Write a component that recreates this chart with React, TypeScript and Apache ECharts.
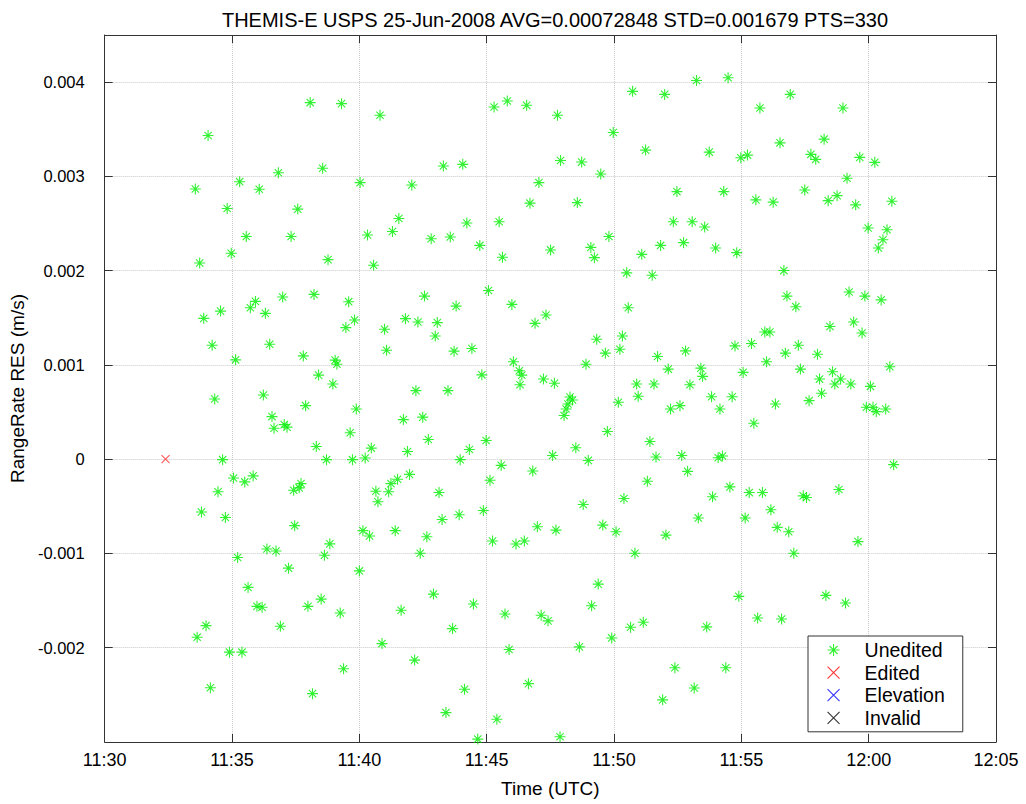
import React, { useEffect, useRef } from "react";
import * as echarts from "echarts";

const TITLE = "THEMIS-E USPS 25-Jun-2008 AVG=0.00072848 STD=0.001679 PTS=330";
const X_NAME = "Time (UTC)";
const Y_NAME = "RangeRate RES (m/s)";
const LEGEND_NAMES = ["Unedited", "Edited", "Elevation", "Invalid"];

// Time: minutes after 11:00 UTC
const uneditedMinutes = [
  38.07, 34.06, 36.82, 38.56, 35.3, 33.56, 36.07, 34.81, 37.58, 35.56,
  37.32, 34.97, 33.73, 38.77, 39.3, 40.81, 45.29, 45.81, 46.57, 47.78,
  43.3, 44.06, 47.9, 40.03, 42.06, 47.05, 46.7, 41.55, 40.32, 41.3,
  42.82, 43.57, 44.22, 45.49, 44.73, 45.62, 47.51, 40.56, 53.24, 54.48,
  50.73, 51.99, 56.92, 55.73, 49.97, 51.24, 53.74, 54.98, 55.24, 56.52,
  48.73, 49.48, 48.56, 52.47, 54.31, 55.57, 56.25, 52.33, 53.07, 53.56,
  49.8, 49.09, 49.23, 51.09, 51.83, 52.73, 53.99, 54.82, 50.5, 51.5,
  56.67, 58.99, 58.25, 57.73, 57.92, 59.65, 60.24, 59.15, 57.49, 58.41,
  58.76, 59.49, 60.91, 59.98, 60.72, 60.56, 60.38,
  33.89, 34.55, 35.72, 35.92, 36.31, 36.99, 38.22, 34.22, 36.48, 37.8,
  35.14, 38.4, 34.32, 36.23, 37.89, 36.57, 36.65, 37.05, 37.16, 38.31,
  34.63, 38.71, 35.06, 35.5, 35.83, 34.45, 37.42, 37.71, 37.64, 33.8,
  34.74,
  39.58, 42.56, 45.07, 43.8, 45.99, 47.33, 46.9, 39.81, 39.47, 40.99,
  41.81, 42.3, 43.06, 42.98, 41.07, 43.72, 44.42, 39.05, 39.12, 38.96,
  46.05, 46.28, 46.38, 46.31, 44.81, 47.23, 47.66, 42.22, 43.48, 39.88,
  41.73, 42.49, 39.64, 42.71, 40.47, 39.73, 40.23, 41.89, 44.32, 44.98,
  43.96, 47.59, 45.57, 46.81, 41.97, 41.5, 41.24, 41.15, 40.65, 40.73,
  45.13, 43.13, 44.87, 43.92, 43.25,
  50.56, 56.79, 49.32, 50.33, 49.66, 50.23, 48.9, 51.71, 52.81, 54.75,
  55.4, 55.92, 56.12, 56.73, 55.99, 52.13, 53.41, 53.48, 55.07, 50.89,
  51.57, 52.98, 50.95, 50.17, 48.27, 48.37, 48.19, 48.12, 48.04, 53.83,
  54.64, 52.22, 52.59, 54.16, 56.34, 55.49, 49.74, 51.41, 48.5, 48.99,
  51.65, 52.66, 54.09, 54.26, 52.89, 51.31, 54.55, 53.87, 50.39, 48.79,
  55.31, 55.83, 56.16, 53.31, 55.15,
  57.14, 59.23, 59.85, 60.49, 58.48, 59.41, 59.74, 57.24,
  57.99, 57.32, 58.58, 58.07, 58.9, 58.67, 59.3, 60.07, 60.83, 58.15,
  57.66, 59.91, 60.17, 60.3, 60.67, 60.98, 58.83, 57.43, 57.56,
  37.46, 36.37, 36.73, 35.22, 37.22, 38.63, 38.84, 35.63, 35.98, 36.18,
  37.98, 38.5, 36.9, 33.98, 33.63, 34.9, 35.39, 34.15, 38.16,
  40.14, 40.4, 41.41, 42.65, 42.39, 45.23, 46.15, 46.48, 46.99, 47.72,
  40.0, 39.25, 41.64, 42.91, 44.48, 43.66, 45.72, 47.14, 47.41, 40.89,
  45.88, 42.17, 39.38, 44.13, 46.64, 43.4, 45.4, 44.65, 47.88,
  49.56, 50.08, 52.04, 56.41, 56.86, 50.82, 49.38, 49.12, 48.64, 49.91,
  50.65, 51.15, 53.64, 54.9, 55.64, 56.58, 52.39, 53.15, 51.91, 54.39,
  57.06, 59.58, 58.32, 59.09,
];

// Residuals in mm/s (converted to m/s for plotting)
const uneditedResMmS = [
  3.783, 3.434, 3.039, 3.086, 2.944, 2.867, 2.864, 2.659, 2.653, 2.363,
  2.363, 2.184, 2.082, 2.117, 3.772, 3.648, 3.736, 3.8, 3.754, 3.648,
  3.11, 3.128, 3.168, 2.934, 2.909, 2.934, 2.716, 2.553, 2.378, 2.416,
  2.339, 2.357, 2.505, 2.519, 2.268, 2.142, 2.22, 2.057, 4.018, 4.047,
  3.902, 3.87, 3.87, 3.726, 3.466, 3.279, 3.258, 3.198, 3.226, 3.356,
  3.152, 3.025, 2.722, 2.839, 2.839, 2.751, 2.727, 2.519, 2.519, 2.463,
  2.363, 2.247, 2.138, 2.173, 2.268, 2.297, 2.241, 2.191, 1.977, 1.951,
  2.001, 3.726, 3.395, 3.234, 3.181, 3.202, 3.149, 2.98, 2.856, 2.743,
  2.796, 2.698, 2.737, 2.452, 2.434, 2.328, 2.241,
  1.494, 1.571, 1.607, 1.674, 1.547, 1.721, 1.748, 1.209, 1.22, 1.096,
  1.054, 0.892, 0.639, 0.681, 0.568, 0.452, 0.329, 0.367, 0.34, 0.135,
  -0.005, -0.005, -0.199, -0.241, -0.177, -0.346, -0.329, -0.259, -0.304, -0.56,
  -0.618,
  1.671, 1.73, 1.79, 1.624, 1.642, 1.529, 1.441, 1.476, 1.396, 1.378,
  1.491, 1.455, 1.449, 1.307, 1.156, 1.146, 1.174, 1.051, 1.008, 0.797,
  1.033, 0.938, 0.892, 0.79, 0.895, 0.85, 0.805, 0.727, 0.727, 0.533,
  0.42, 0.446, 0.28, 0.209, 0.118, -0.005, 0.013, 0.082, 0.103, 0.199,
  -0.005, 0.04, -0.065, -0.125, -0.161, -0.213, -0.259, -0.346, -0.34, -0.452,
  -0.224, -0.354, -0.544, -0.589, -0.639,
  1.607, 1.73, 1.272, 1.307, 1.125, 1.167, 1.008, 1.09, 1.149, 1.202,
  1.227, 1.35, 1.35, 1.125, 1.033, 0.956, 0.966, 0.879, 0.921, 0.797,
  0.797, 0.79, 0.667, 0.604, 0.66, 0.628, 0.586, 0.533, 0.463, 0.663,
  0.663, 0.533, 0.568, 0.533, 0.586, 0.382, 0.294, 0.188, 0.121, -0.013,
  0.023, 0.04, 0.016, 0.034, -0.129, -0.234, -0.294, -0.399, -0.417, -0.48,
  -0.354, -0.354, -0.536, -0.623, -0.623,
  1.618, 1.774, 1.73, 1.69, 1.407, 1.455, 1.339, 1.209,
  1.114, 0.956, 0.927, 0.85, 0.85, 0.797, 0.797, 0.773, 0.98, 0.699,
  0.621, 0.551, 0.551, 0.505, 0.533, -0.058, -0.322, -0.389, -0.407,
  -0.705, -0.953, -0.974, -1.043, -1.156, -1.019, -0.898, -1.36, -1.561, -1.571,
  -1.561, -1.484, -1.772, -1.766, -1.888, -2.047, -2.047, -2.424, -2.487,
  -0.758, -0.815, -0.758, -0.822, -0.998, -0.868, -0.9, -0.868, -0.716, -0.752,
  -1.185, -1.632, -1.603, -1.431, -1.536, -1.797, -1.642, -1.656, -1.715, -1.956,
  -2.019, -2.131, -2.223, -2.441, -2.381, -2.688, -2.758, -2.969, -2.944,
  -0.699, -0.769, -0.805, -0.723, -0.769, -0.998, -1.325, -1.554, -1.991, -1.896,
  -1.783, -1.73, -1.779, -1.455, -1.684, -1.695, -2.212, -2.427, -2.553, -2.212,
  -0.998, -0.874, -1.445, -1.526,
];

const editedMinutes = [32.39];
const editedResMmS = [0.0];
const elevationMinutes: number[] = [];
const elevationResMmS: number[] = [];
const invalidMinutes: number[] = [];
const invalidResMmS: number[] = [];

const STAR = "path://M0,6L12,6M6,0L6,12M2,2L10,10M10,2L2,10";
const CROSS = "path://M0,0L10,10M10,0L0,10";
const FONT = "Liberation Sans, Arial, Helvetica, sans-serif";

const toPairs = (xs: number[], ys: number[]) => xs.map((x, i) => [x, ys[i] / 1000]);

const fmtTime = (v: number) => {
  const h = 11 + Math.floor(v / 60);
  const m = Math.round(v % 60);
  return `${h}:${String(m).padStart(2, "0")}`;
};
const fmtRes = (v: number) => (Math.abs(v) < 1e-9 ? "0" : String(parseFloat(v.toFixed(4))));

export default function App() {
  const ref = useRef<HTMLDivElement>(null);
  useEffect(() => {
    if (!ref.current) return;
    const chart = echarts.init(ref.current, null, { renderer: "svg" });
    const axisColor = "#333";
    const grid = { type: "dotted" as const, color: "#c8c8c8", width: 1 };
    const line = { show: true, onZero: false, lineStyle: { color: axisColor, width: 1 } };
    const tick = { show: true, inside: true, length: 8, lineStyle: { color: axisColor } };
    const mk = (name: string, symbol: string, size: number, color: string, data: number[][]) => ({
      name,
      type: "scatter",
      symbol,
      symbolSize: size,
      data,
      itemStyle: { color: "rgba(0,0,0,0)", borderColor: color, borderWidth: 1.1 },
      emphasis: { disabled: true },
    });
    const legendItem = (name: string, icon: string, color: string) => ({
      name,
      icon,
      itemStyle: { color: "rgba(0,0,0,0)", borderColor: color, borderWidth: 1.1 },
    });
    chart.setOption({
      animation: false,
      backgroundColor: "#fff",
      textStyle: { fontFamily: FONT },
      title: {
        text: TITLE,
        left: 550,
        top: 5,
        textAlign: "center",
        textStyle: { fontFamily: FONT, fontSize: 20, fontWeight: "normal", color: "#000" },
      },
      grid: { left: 104, right: 30, top: 35, bottom: 62 },
      legend: {
        orient: "vertical",
        left: 808,
        top: 636,
        padding: [4, 18, 4, 19],
        itemWidth: 44,
        itemHeight: 12,
        itemGap: 2.6,
        backgroundColor: "#fff",
        borderColor: "#333",
        borderWidth: 1,
        borderRadius: 0,
        selectedMode: false,
        textStyle: { fontFamily: FONT, fontSize: 19.5, color: "#000", padding: [0, 0, 0, 4] },
        data: [
          legendItem(LEGEND_NAMES[0], STAR, "#00ee00"),
          legendItem(LEGEND_NAMES[1], CROSS, "#ff0000"),
          legendItem(LEGEND_NAMES[2], CROSS, "#0000ff"),
          legendItem(LEGEND_NAMES[3], CROSS, "#000000"),
        ],
      },
      xAxis: [
        {
          type: "value",
          min: 30,
          max: 65,
          interval: 5,
          position: "bottom",
          name: X_NAME,
          nameLocation: "middle",
          nameGap: 37,
          nameTextStyle: { fontFamily: FONT, fontSize: 19, color: "#000" },
          axisLine: line,
          axisTick: tick,
          axisLabel: { formatter: fmtTime, fontFamily: FONT, fontSize: 18, color: "#000", margin: 9 },
          splitLine: { show: true, lineStyle: grid },
        },
        {
          type: "value",
          min: 30,
          max: 65,
          interval: 5,
          position: "top",
          axisLine: line,
          axisTick: tick,
          axisLabel: { show: false },
          splitLine: { show: false },
        },
      ],
      yAxis: [
        {
          type: "value",
          min: -0.003,
          max: 0.0045,
          interval: 0.001,
          position: "left",
          name: Y_NAME,
          nameLocation: "middle",
          nameGap: 71,
          nameRotate: 90,
          nameTextStyle: { fontFamily: FONT, fontSize: 19, color: "#000" },
          axisLine: line,
          axisTick: tick,
          axisLabel: {
            formatter: fmtRes,
            fontFamily: FONT,
            fontSize: 16.5,
            color: "#000",
            margin: 20,
            showMinLabel: false,
            showMaxLabel: false,
          },
          splitLine: { show: true, lineStyle: grid },
        },
        {
          type: "value",
          min: -0.003,
          max: 0.0045,
          interval: 0.001,
          position: "right",
          axisLine: line,
          axisTick: tick,
          axisLabel: { show: false },
          splitLine: { show: false },
        },
      ],
      series: [
        mk(LEGEND_NAMES[0], STAR, 11, "#00ee00", toPairs(uneditedMinutes, uneditedResMmS)),
        mk(LEGEND_NAMES[1], CROSS, 8, "#ff3030", toPairs(editedMinutes, editedResMmS)),
        mk(LEGEND_NAMES[2], CROSS, 8, "#0000ff", toPairs(elevationMinutes, elevationResMmS)),
        mk(LEGEND_NAMES[3], CROSS, 8, "#000000", toPairs(invalidMinutes, invalidResMmS)),
      ],
    });
    return () => chart.dispose();
  }, []);
  return (
    <div
      ref={ref}
      style={{ position: "absolute", left: 0, top: 0, width: 1026, height: 804 }}
    />
  );
}
